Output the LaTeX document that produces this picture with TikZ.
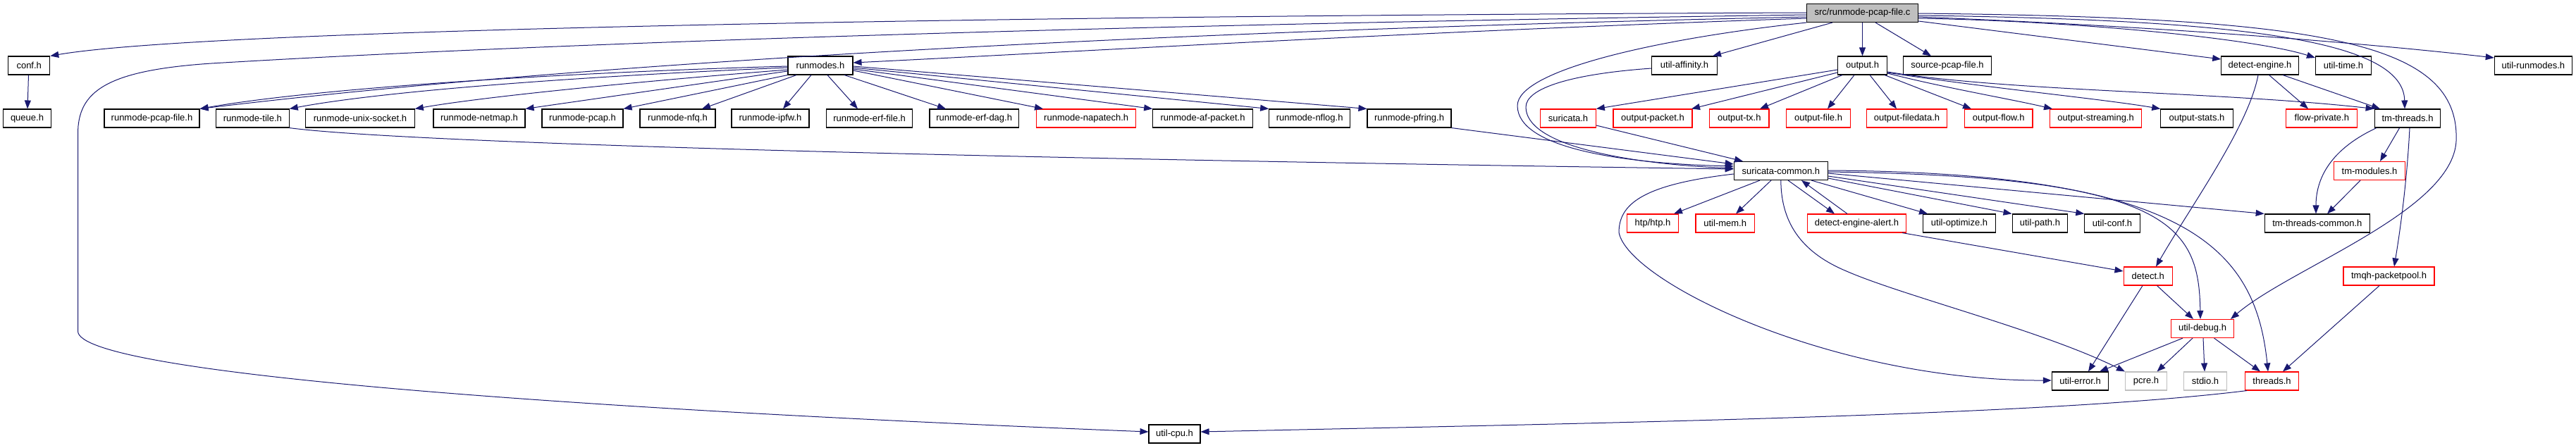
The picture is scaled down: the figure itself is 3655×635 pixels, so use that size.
\documentclass[tikz,border=0pt]{standalone}
\usepackage{fontspec}
\setmainfont{Liberation Sans}
\usetikzlibrary{arrows.meta}
\definecolor{navy}{HTML}{191970}
\begin{document}
\begin{tikzpicture}[x=1pt,y=-1pt,
  box/.style={draw=black, fill=white, line width=1.1pt, minimum height=26pt, inner sep=0pt, font=\fontsize{13}{15}\selectfont},
  rbox/.style={box, draw=red},
  gbox/.style={box, draw=black!25},
  rootbox/.style={box, fill=black!25},
  dep/.style={draw=navy, line width=1pt, -{Triangle[length=12pt,width=9pt]}}]
\useasboundingbox (0,0) rectangle (3655,635);
% row 1
\node[rootbox, minimum width=158pt] (root) at (2642.5,18.5) {src/runmode-pcap-file.c};
% row 2
\node[box, minimum width=59pt] (conf) at (41.25,93) {conf.h};
\node[box, minimum width=92pt] (runmodes) at (1164,93) {runmodes.h};
\node[box, minimum width=93pt] (affinity) at (2390,93) {util-affinity.h};
\node[box, minimum width=70pt] (output) at (2642.5,93) {output.h};
\node[box, minimum width=125pt] (sourcepcap) at (2763,93) {source-pcap-file.h};
\node[box, minimum width=109.5pt] (detengine) at (3206.5,93) {detect-engine.h};
\node[box, minimum width=79pt] (utiltime) at (3325,93) {util-time.h};
\node[box, minimum width=110pt] (utilrunmodes) at (3594.3,93) {util-runmodes.h};
% row 3
\node[box, minimum width=67.7pt] (queue) at (38.5,168) {queue.h};
\node[box, minimum width=135pt] (rmpcapfile) at (215.5,168) {runmode-pcap-file.h};
\node[box, minimum width=103.5pt] (rmtile) at (358.4,168) {runmode-tile.h};
\node[box, minimum width=154.5pt] (rmunix) at (511,168) {runmode-unix-socket.h};
\node[box, minimum width=130pt] (rmnetmap) at (680,168) {runmode-netmap.h};
\node[box, minimum width=115pt] (rmpcap) at (826.5,168) {runmode-pcap.h};
\node[box, minimum width=107pt] (rmnfq) at (961.5,168) {runmode-nfq.h};
\node[box, minimum width=110pt] (rmipfw) at (1093,168) {runmode-ipfw.h};
\node[box, minimum width=122.4pt] (rmerffile) at (1233.6,168) {runmode-erf-file.h};
\node[box, minimum width=126.4pt] (rmerfdag) at (1382.2,168) {runmode-erf-dag.h};
\node[rbox, minimum width=140.8pt] (rmnapatech) at (1541.2,168) {runmode-napatech.h};
\node[box, minimum width=141.6pt] (rmafpacket) at (1706.5,168) {runmode-af-packet.h};
\node[box, minimum width=115pt] (rmnflog) at (1858.2,168) {runmode-nflog.h};
\node[box, minimum width=119pt] (rmpfring) at (1999.5,168) {runmode-pfring.h};
\node[rbox, minimum width=78.6pt] (suricata) at (2225,168) {suricata.h};
\node[rbox, minimum width=112pt] (outpacket) at (2345,168) {output-packet.h};
\node[rbox, minimum width=84.3pt] (outtx) at (2467.8,168) {output-tx.h};
\node[rbox, minimum width=91.3pt] (outfile) at (2580,168) {output-file.h};
\node[rbox, minimum width=114.5pt] (outfiledata) at (2705.5,168) {output-filedata.h};
\node[rbox, minimum width=96.8pt] (outflow) at (2835.6,168) {output-flow.h};
\node[rbox, minimum width=130pt] (outstreaming) at (2973.6,168) {output-streaming.h};
\node[box, minimum width=102.4pt] (outstats) at (3117,168) {output-stats.h};
\node[rbox, minimum width=100.8pt] (flowpriv) at (3294.3,168) {flow-private.h};
\node[box, minimum width=93.7pt] (tmthreads) at (3416,168) {tm-threads.h};
% row 4
\node[box, minimum width=133pt] (surcommon) at (2526.8,242.5) {suricata-common.h};
\node[rbox, minimum width=100.8pt] (tmmodules) at (3362,242.5) {tm-modules.h};
% row 5
\node[rbox, minimum width=73.3pt] (htp) at (2345,317) {htp/htp.h};
\node[rbox, minimum width=83.5pt] (utilmem) at (2447.7,317) {util-mem.h};
\node[rbox, minimum width=139.8pt] (dealert) at (2634.4,317) {detect-engine-alert.h};
\node[box, minimum width=103pt] (utiloptimize) at (2780,317) {util-optimize.h};
\node[box, minimum width=78.7pt] (utilpath) at (2894.4,317) {util-path.h};
\node[box, minimum width=78.4pt] (utilconf) at (2997,317) {util-conf.h};
\node[box, minimum width=149.2pt] (tmtcommon) at (3287.8,317) {tm-threads-common.h};
% row 6
\node[rbox, minimum width=69.5pt] (detect) at (3047.8,392) {detect.h};
\node[rbox, minimum width=129pt] (tmqh) at (3389.5,392) {tmqh-packetpool.h};
% row 7
\node[rbox, minimum width=89pt] (utildebug) at (3125,466.5) {util-debug.h};
% row 8
\node[box, minimum width=80.4pt] (utilerror) at (2951.5,541) {util-error.h};
\node[gbox, minimum width=59pt] (pcre) at (3045,541) {pcre.h};
\node[gbox, minimum width=61.5pt] (stdio) at (3129,541) {stdio.h};
\node[rbox, minimum width=76pt] (threads) at (3223.5,541) {threads.h};
% row 9
\node[box, minimum width=73pt] (utilcpu) at (1666.5,616) {util-cpu.h};

% ---- edges from root
\draw[dep] (root.west |- 0,18) .. controls (1500,22) and (300,40) .. (conf.north east);
\draw[dep] (root.west |- 0,21) .. controls (1600,35) and (800,60) .. (300,90)
  .. controls (150,100) and (110.5,130) .. (110.5,190) -- (110.5,470)
  .. controls (110.5,530) and (800,580) .. (utilcpu.west |- 0,613);
\draw[dep] (root.west |- 0,24) .. controls (1800,40) and (900,80) .. (rmpcapfile.north east);
\draw[dep] (root.west |- 0,26) .. controls (2000,45) and (1500,75) .. (runmodes.east |- 0,89);
\draw[dep] (root.south west) .. controls (2350,55) and (2153,100) .. (2153,150)
  .. controls (2153,210) and (2300,232) .. (surcommon.west |- 0,236);
\draw[dep] (root.south -| 2600,0) -- (affinity.north -| 2430,0);
\draw[dep] (root.south) -- (output.north);
\draw[dep] (root.south -| 2661,0) -- (sourcepcap.north -| 2740,0);
\draw[dep] (root.east |- 0,30) -- (detengine.west |- 0,84);
\draw[dep] (root.east |- 0,26) .. controls (2950,30) and (3200,55) .. (utiltime.west |- 0,82);
\draw[dep] (root.east |- 0,24) .. controls (3000,35) and (3300,55) .. (utilrunmodes.west |- 0,82);
\draw[dep] (root.east |- 0,22) .. controls (3200,28) and (3410,60) .. (tmthreads.north -| 3412,0);
\draw[dep] (root.east |- 0,19) .. controls (3300,25) and (3490,60) .. (3485,200)
  .. controls (3480,300) and (3250,380) .. (utildebug.north -| 3165,0);
% ---- conf
\draw[dep] (conf.south -| 40.5,0) -- (queue.north -| 39,0);
% ---- runmodes
\draw[dep] (runmodes.west |- 0,94) .. controls (800,103) and (450,125) .. (rmpcapfile.north east);
\draw[dep] (runmodes.west |- 0,96) .. controls (850,107) and (550,128) .. (rmtile.north east);
\draw[dep] (runmodes.west |- 0,99) .. controls (950,112) and (700,135) .. (rmunix.north east);
\draw[dep] (runmodes.west |- 0,101) -- (rmnetmap.north east);
\draw[dep] (runmodes.south west) -- (rmpcap.north east);
\draw[dep] (runmodes.south -| 1130,0) -- (rmnfq.north -| 996,0);
\draw[dep] (runmodes.south -| 1151,0) -- (rmipfw.north -| 1111,0);
\draw[dep] (runmodes.south -| 1174,0) -- (rmerffile.north -| 1217,0);
\draw[dep] (runmodes.south -| 1198,0) -- (rmerfdag.north -| 1342,0);
\draw[dep] (runmodes.east |- 0,100) -- (rmnapatech.north -| 1480,0);
\draw[dep] (runmodes.east |- 0,98) -- (rmafpacket.north west);
\draw[dep] (runmodes.east |- 0,96) -- (rmnflog.north west);
\draw[dep] (runmodes.east |- 0,94) -- (rmpfring.north west);
% ---- into suricata-common
\draw[dep] (rmtile.south east) .. controls (550,200) and (1200,222) .. (surcommon.west |- 0,240);
\draw[dep] (rmpfring.south east) -- (surcommon.west |- 0,233);
\draw[dep] (suricata.east |- 0,178) -- (surcommon.north -| 2473,0);
\draw[dep] (affinity.west |- 0,97) .. controls (2230,105) and (2165,125) .. (2165,152)
  .. controls (2165,205) and (2300,232) .. (surcommon.west |- 0,239);
% ---- output
\draw[dep] (output.west |- 0,99) -- (suricata.north east);
\draw[dep] (output.west |- 0,103) -- (outpacket.north -| 2400,0);
\draw[dep] (output.south -| 2614,0) -- (outtx.north -| 2497,0);
\draw[dep] (output.south -| 2631,0) -- (outfile.north -| 2593,0);
\draw[dep] (output.south -| 2653,0) -- (outfiledata.north -| 2691,0);
\draw[dep] (output.south -| 2674,0) -- (outflow.north -| 2797,0);
\draw[dep] (output.east |- 0,104) .. controls (2760,125) and (2850,140) .. (outstreaming.north -| 2912,0);
\draw[dep] (output.east |- 0,103) .. controls (2820,125) and (2980,140) .. (outstats.north west);
\draw[dep] (output.east |- 0,102) .. controls (2850,130) and (3150,130) .. (tmthreads.north west);
% ---- detect-engine
\draw[dep] (detengine.south -| 3219.5,0) -- (flowpriv.north -| 3275,0);
\draw[dep] (detengine.south -| 3239,0) -- (tmthreads.north -| 3377,0);
\draw[dep] (detengine.south -| 3204,0) .. controls (3190,180) and (3110,290) .. (detect.north -| 3059,0);
% ---- tm-threads
\draw[dep] (tmthreads.south -| 3404.6,0) -- (tmmodules.north -| 3377,0);
\draw[dep] (tmthreads.south -| 3372,0) .. controls (3300,215) and (3286,260) .. (tmtcommon.north -| 3286,0);
\draw[dep] (tmthreads.south -| 3419,0) .. controls (3415,260) and (3405,330) .. (tmqh.north -| 3397,0);
\draw[dep] (tmmodules.south -| 3349,0) -- (tmtcommon.north -| 3302,0);
% ---- suricata-common
\draw[dep] (surcommon.south -| 2497,0) -- (htp.north -| 2375,0);
\draw[dep] (surcommon.south -| 2513,0) -- (utilmem.north -| 2463,0);
\draw[dep] (surcommon.south -| 2537,0) -- (dealert.north -| 2603,0);
\draw[dep] (dealert.north -| 2621,0) -- (surcommon.south -| 2556,0);
\draw[dep] (surcommon.south -| 2570,0) -- (utiloptimize.north -| 2735,0);
\draw[dep] (surcommon.east |- 0,253) -- (utilpath.north west);
\draw[dep] (surcommon.east |- 0,250) -- (utilconf.north west);
\draw[dep] (surcommon.east |- 0,246) -- (tmtcommon.north west);
\draw[dep] (surcommon.east |- 0,244) .. controls (3080,250) and (3120,320) .. (utildebug.north -| 3122,0);
\draw[dep] (surcommon.east |- 0,242) .. controls (3100,245) and (3200,350) .. (threads.north -| 3218,0);
\draw[dep] (surcommon.west |- 0,247) .. controls (2330,262) and (2297,290) .. (2297,330)
  .. controls (2310,400) and (2600,541) .. (utilerror.west |- 0,540);
\draw[dep] (surcommon.south) .. controls (2527,320) and (2560,360) .. (2620,385)
  .. controls (2700,420) and (2900,470) .. (pcre.north west);
% ---- detect-engine-alert, detect, tmqh, util-debug, threads
\draw[dep] (dealert.south -| 2699,0) -- (detect.west |- 0,385);
\draw[dep] (detect.south -| 3060.5,0) -- (utildebug.north -| 3112,0);
\draw[dep] (detect.south -| 3040,0) -- (utilerror.north -| 2963,0);
\draw[dep] (tmqh.south -| 3376,0) -- (threads.north -| 3239,0);
\draw[dep] (utildebug.south -| 3097,0) -- (utilerror.north -| 2979,0);
\draw[dep] (utildebug.south -| 3111,0) -- (pcre.north -| 3060.5,0);
\draw[dep] (utildebug.south -| 3126,0) -- (stdio.north -| 3128,0);
\draw[dep] (utildebug.south -| 3141.5,0) -- (threads.north -| 3207,0);
\draw[dep] (threads.south -| 3188,0) .. controls (2900,590) and (2300,600) .. (utilcpu.east |- 0,613);
\end{tikzpicture}
\end{document}
